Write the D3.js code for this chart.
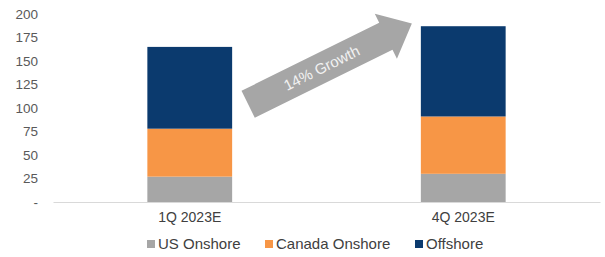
<!DOCTYPE html>
<html>
<head>
<meta charset="utf-8">
<script src="https://cdn.jsdelivr.net/npm/d3@7"></script>
<style>
  body { margin: 0; background: #fff; }
  svg { display: block; font-family: "Liberation Sans", Arial, sans-serif; }
</style>
</head>
<body>
<svg id="chart" width="605" height="257"></svg>
<script>
// chart data
var categories = ['1Q 2023E', '4Q 2023E'];
var seriesNames = ['US Onshore', 'Canada Onshore', 'Offshore'];
var usOnshore = [27, 30];
var canadaOnshore = [51, 61];
var offshore = [87, 96];
var yTicks = [0, 25, 50, 75, 100, 125, 150, 175, 200];
var growthLabel = '14% Growth';
// arrow ends, in data units (value axis)
var arrowValues = [104, 190];

var colors = ['#a6a6a6', '#f79646', '#0b3a6e'];

const svg = d3.select('#chart');
const margin = { left: 53, right: 5, top: 14, bottom: 55 };
const width = +svg.attr('width');
const height = +svg.attr('height');

// build rows for the stack
var rows = categories.map(function(c, i) {
  return { cat: c, 'US Onshore': usOnshore[i], 'Canada Onshore': canadaOnshore[i], 'Offshore': offshore[i] };
});
var stacked = d3.stack().keys(seriesNames)(rows);

const x = d3.scaleBand()
  .domain(categories)
  .range([margin.left, width - margin.right])
  .paddingInner(0.69)
  .paddingOuter(0.345);

const y = d3.scaleLinear()
  .domain([0, 200])
  .range([height - margin.bottom, margin.top]);

const color = d3.scaleOrdinal().domain(seriesNames).range(colors);

// bars
svg.append('g')
  .selectAll('g')
  .data(stacked)
  .join('g')
  .attr('fill', d => color(d.key))
  .selectAll('rect')
  .data(d => d)
  .join('rect')
  .attr('x', d => x(d.data.cat))
  .attr('y', d => y(d[1]))
  .attr('width', x.bandwidth())
  .attr('height', d => y(d[0]) - y(d[1]));

// y axis labels (no line)
const yAxis = d3.axisLeft(y)
  .tickValues(yTicks)
  .tickSize(0)
  .tickPadding(15)
  .tickFormat(d => d === 0 ? '-' : d);
const yg = svg.append('g')
  .attr('transform', `translate(${margin.left},0)`)
  .call(yAxis);
yg.select('.domain').remove();
yg.selectAll('text')
  .style('font-size', '13.5px')
  .style('fill', '#595959');

// x axis
const xAxis = d3.axisBottom(x).tickSize(0).tickPadding(10);
const xg = svg.append('g')
  .attr('transform', `translate(0,${y(0)})`)
  .call(xAxis);
xg.select('.domain')
  .attr('stroke', '#d9d9d9')
  .attr('stroke-width', 1.2);
xg.selectAll('text')
  .style('font-size', '14px')
  .style('fill', '#404040');

// growth arrow between the bars
var x0 = x(categories[0]) + x.bandwidth() + 16;
var y0 = y(arrowValues[0]);
var x1 = x(categories[1]) - 9;
var y1 = y(arrowValues[1]);
var len = Math.hypot(x1 - x0, y1 - y0);
var ang = Math.atan2(y1 - y0, x1 - x0) * 180 / Math.PI;
var shaftHalf = 15, headHalf = 25, headLen = 29;
var arrowPts = [
  [0, -shaftHalf], [len - headLen, -shaftHalf], [len - headLen, -headHalf],
  [len, 0], [len - headLen, headHalf], [len - headLen, shaftHalf], [0, shaftHalf]
];
const arrow = svg.append('g')
  .attr('transform', `translate(${x0},${y0}) rotate(${ang})`);
arrow.append('polygon')
  .attr('points', arrowPts.map(p => p.join(',')).join(' '))
  .attr('fill', '#a6a6a6');
arrow.append('text')
  .attr('x', 82)
  .attr('y', 0)
  .attr('dy', '0.35em')
  .attr('text-anchor', 'middle')
  .style('font-size', '15px')
  .style('fill', '#f2f2f2')
  .text(growthLabel);

// legend
var legendX = [147, 265, 415];
const legend = svg.append('g')
  .selectAll('g')
  .data(seriesNames)
  .join('g')
  .attr('transform', (d, i) => `translate(${legendX[i]},244)`);
legend.append('rect')
  .attr('x', 0)
  .attr('y', -4)
  .attr('width', 8)
  .attr('height', 8)
  .attr('fill', d => color(d));
legend.append('text')
  .attr('x', 11)
  .attr('dy', '0.35em')
  .style('font-size', '15px')
  .style('fill', '#404040')
  .text(d => d);
</script>
</body>
</html>
